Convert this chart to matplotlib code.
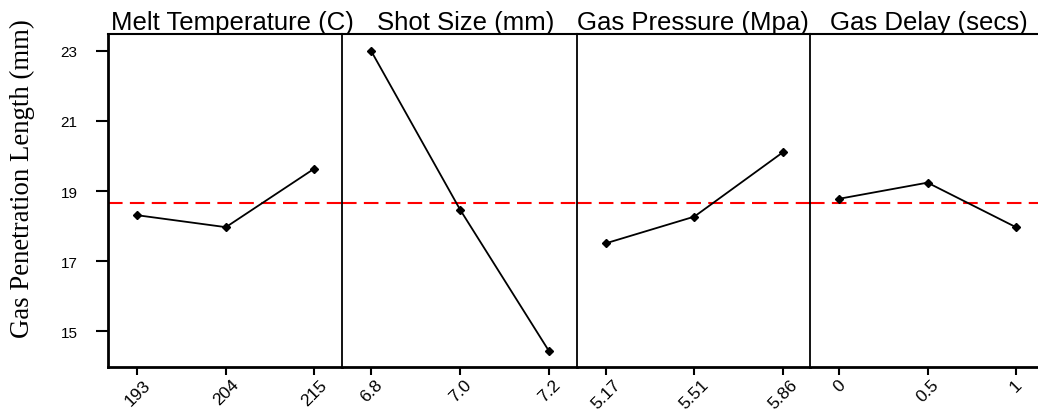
import matplotlib
matplotlib.use("Agg")
import matplotlib.pyplot as plt

titles = ["Melt Temperature (C)", "Shot Size (mm)", "Gas Pressure (Mpa)", "Gas Delay (secs)"]
levels = [["193", "204", "215"], ["6.8", "7.0", "7.2"], ["5.17", "5.51", "5.86"], ["0", "0.5", "1"]]
means = [
    [18.31, 17.97, 19.64],
    [23.00, 18.47, 14.43],
    [17.51, 18.27, 20.10],
    [18.78, 19.24, 17.97],
]
grand_mean = 18.66
yticks = [15, 17, 19, 21, 23]
ylabel = "Gas Penetration Length (mm)"

W, H = 1038, 410
fig = plt.figure(figsize=(W / 100, H / 100), dpi=100)

# layout (pixels)
edges = [108.3, 341.7, 576.7, 810.0, 1043.3]
title_centers = [232.5, 466.0, 692.5, 928.5]
top_px, bot_px = 35.0, 367.7
sans = ["Liberation Sans", "DejaVu Sans"]

for i in range(4):
    l = edges[i] / W
    w = (edges[i + 1] - edges[i]) / W
    b = 1 - bot_px / H
    h = (bot_px - top_px) / H
    ax = fig.add_axes([l, b, w, h])
    x = list(range(len(levels[i])))
    ax.axhline(grand_mean, color="#ff0000", lw=1.5, dashes=(7, 3.5), zorder=1)
    ax.plot(x, means[i], color="black", lw=1.3, marker="D", ms=4, zorder=3)
    ax.set_xlim(-0.33, 2.31)
    ax.set_ylim(13.99, 23.48)
    ax.set_xticks(x)
    ax.set_xticklabels(levels[i], rotation=45, ha="center", va="top",
                       fontsize=12.5, family=sans)
    ax.tick_params(axis="x", length=6, width=1.5, pad=1, direction="out")
    for s in ["top", "bottom", "left", "right"]:
        ax.spines[s].set_color("black")
    ax.spines["right"].set_visible(False)
    ax.spines["top"].set_linewidth(1.5)
    ax.spines["bottom"].set_linewidth(2.0)
    if i == 0:
        ax.spines["left"].set_linewidth(2.0)
        ax.set_yticks(yticks)
        ax.set_yticklabels([str(v) for v in yticks], fontsize=11, family=sans)
        ax.tick_params(axis="y", length=9, width=1.5, pad=13)
    else:
        ax.spines["left"].set_linewidth(1.3)
        ax.set_yticks([])
    tx = (title_centers[i] - edges[i]) / (edges[i + 1] - edges[i])
    ax.set_title(titles[i], fontsize=18.5, family=sans, pad=3, x=tx)

fig.text(22 / W, 1 - 179 / H, ylabel, rotation=90, ha="center", va="center",
         fontsize=19.3, family=["Liberation Serif", "DejaVu Serif"])

fig.savefig("out.png", dpi=100)
